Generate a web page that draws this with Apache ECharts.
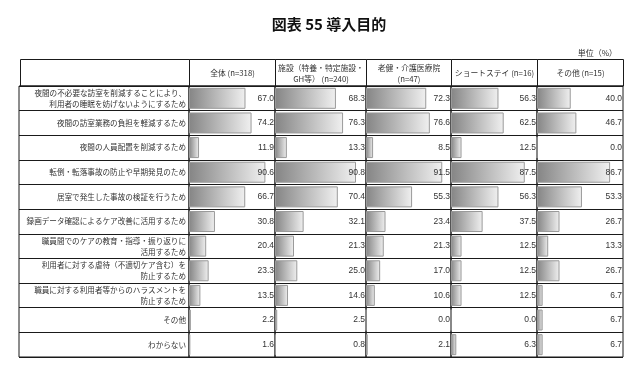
<!DOCTYPE html>
<html><head><meta charset="utf-8">
<script src="https://cdn.jsdelivr.net/npm/echarts@6/dist/echarts.min.js"></script>
<style>html,body{margin:0;padding:0;background:#fff}#c{width:637px;height:369px}</style>
</head><body><div id="c"></div>
<script>
const titleText = '図表 55 導入目的';
const unitText = '単位（%）';
const categories = [
  '夜間の不必要な訪室を削減することにより、\n利用者の睡眠を妨げないようにするため',
  '夜間の訪室業務の負担を軽減するため',
  '夜間の人員配置を削減するため',
  '転倒・転落事故の防止や早期発見のため',
  '居室で発生した事故の検証を行うため',
  '録画データ確認によるケア改善に活用するため',
  '職員間でのケアの教育・指導・振り返りに\n活用するため',
  '利用者に対する虐待（不適切ケア含む）を\n防止するため',
  '職員に対する利用者等からのハラスメントを\n防止するため',
  'その他',
  'わからない'
];
const groupNames = [
  '全体 (n=318)',
  '施設（特養・特定施設・\nGH等） (n=240)',
  '老健・介護医療院\n(n=47)',
  'ショートステイ (n=16)',
  'その他 (n=15)'
];
const zentai   = [67.0, 74.2, 11.9, 90.6, 66.7, 30.8, 20.4, 23.3, 13.5, 2.2, 1.6];
const shisetsu = [68.3, 76.3, 13.3, 90.8, 70.4, 32.1, 21.3, 25.0, 14.6, 2.5, 0.8];
const roken    = [72.3, 76.6, 8.5, 91.5, 55.3, 23.4, 21.3, 17.0, 10.6, 0.0, 2.1];
const short    = [56.3, 62.5, 12.5, 87.5, 56.3, 37.5, 12.5, 12.5, 12.5, 0.0, 6.3];
const sonota   = [40.0, 46.7, 0.0, 86.7, 53.3, 26.7, 13.3, 26.7, 6.7, 6.7, 6.7];
const seriesValues = [zentai, shisetsu, roken, short, sonota];

// layout
const colX = [189, 275, 366, 451, 537, 623];
const tableLeft = 19.5, headTop = 59.5, headBottom = 86;
const gridTop = 86, gridHeight = 271;
const lineColor = '#1a1a1a';
const cjk = '"Noto Sans CJK JP", sans-serif';

const chart = echarts.init(document.getElementById('c'));
const grids = [], xAxes = [], yAxes = [], series = [], graphics = [];

// label column grid (borders + row lines only)
grids.push({left: 19, top: gridTop, width: colX[0] - 19, height: gridHeight, show: true, borderColor: lineColor, borderWidth: 1});
xAxes.push({gridIndex: 0, type: 'value', show: false, min: 0, max: 100});
yAxes.push({gridIndex: 0, type: 'category', data: categories, inverse: true, axisLine: {show: false}, axisTick: {show: false}, axisLabel: {show: false}, splitLine: {show: true, lineStyle: {color: lineColor, width: 1}}});
series.push({type: 'bar', xAxisIndex: 0, yAxisIndex: 0, data: categories.map(() => null), silent: true});

seriesValues.forEach((vals, i) => {
  const gi = i + 1;
  grids.push({left: colX[i], top: gridTop, width: colX[i + 1] - colX[i], height: gridHeight, show: true, borderColor: lineColor, borderWidth: 1});
  xAxes.push({gridIndex: gi, type: 'value', show: false, min: 0, max: 102});
  yAxes.push({
    gridIndex: gi, type: 'category', data: categories, inverse: true,
    axisLine: {show: false}, axisTick: {show: false},
    axisLabel: {show: i === 0, margin: 3, align: 'right', fontFamily: cjk, fontSize: 7.6, color: '#333', lineHeight: 11},
    splitLine: {show: true, lineStyle: {color: lineColor, width: 1}}
  });
  series.push({
    type: 'bar', xAxisIndex: gi, yAxisIndex: yAxes.length - 1, data: vals, barWidth: 21, z: 2,
    itemStyle: {
      color: new echarts.graphic.LinearGradient(0, 0, 1, 0, [{offset: 0, color: '#858585'}, {offset: 1, color: '#f0f0f0'}]),
      borderColor: '#9a9a9a', borderWidth: 1
    },
    silent: true, animation: false
  });
  // value labels on right side, drawn above bars
  yAxes.push({
    gridIndex: gi, type: 'category', position: 'right', data: vals.map(v => v.toFixed(1)), inverse: true, z: 10,
    axisLine: {show: false}, axisTick: {show: false}, splitLine: {show: false},
    axisLabel: {inside: true, margin: 1, fontFamily: '"Liberation Sans", Arial, sans-serif', fontSize: 8.5, color: '#333'}
  });
});

// header cells
const headerCols = [tableLeft].concat(colX);
for (let i = 0; i < headerCols.length - 1; i++) {
  const x0 = Math.round(headerCols[i]) + 0.5, x1 = Math.round(headerCols[i + 1]) + 0.5;
  graphics.push({type: 'rect', shape: {x: x0, y: headTop, width: x1 - x0, height: headBottom - headTop}, style: {fill: 'none', stroke: lineColor, lineWidth: 1}, silent: true});
  if (i > 0) {
    graphics.push({type: 'text', x: (x0 + x1) / 2, y: (headTop + headBottom) / 2 + 0.5,
      style: {text: groupNames[i - 1], textAlign: 'center', textVerticalAlign: 'middle', font: '7.8px ' + cjk, fill: '#333', lineHeight: 11}, silent: true});
  }
}

chart.setOption({
  animation: false,
  backgroundColor: '#fff',
  title: [
    {text: titleText, left: 329, top: 17, padding: 0, textAlign: 'center', textStyle: {fontFamily: cjk, fontSize: 15, fontWeight: 'bold', color: '#111'}},
    {text: unitText, right: 20, top: 49, padding: 0, textStyle: {fontFamily: cjk, fontSize: 8, fontWeight: 'normal', color: '#333'}}
  ],
  grid: grids, xAxis: xAxes, yAxis: yAxes, series: series,
  graphic: graphics
});
</script></body></html>
